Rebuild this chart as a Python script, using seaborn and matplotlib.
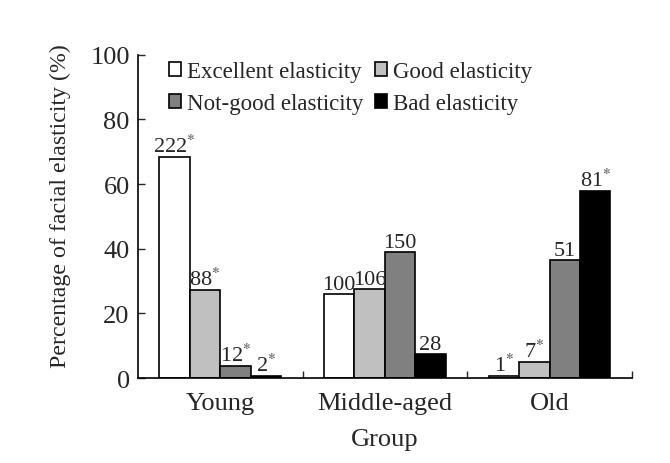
import matplotlib
matplotlib.use("Agg")
import matplotlib.pyplot as plt
import seaborn as sns
import pandas as pd

groups = ["Young", "Middle-aged", "Old"]
categories = ["Excellent elasticity", "Good elasticity", "Not-good elasticity", "Bad elasticity"]
excellent = [68.5, 26.0, 0.7]
good = [27.2, 27.6, 5.0]
notgood = [3.7, 39.1, 36.4]
bad = [0.6, 7.3, 57.9]
excellent_lbl = ["222$^{*}$", "100", "1$^{*}$"]
good_lbl = ["88$^{*}$", "106", "7$^{*}$"]
notgood_lbl = ["12$^{*}$", "150", "51"]
bad_lbl = ["2$^{*}$", "28", "81$^{*}$"]
yticks = [0, 20, 40, 60, 80, 100]

sns.set_theme(style="white")
plt.rcParams["font.family"] = ["Liberation Serif", "DejaVu Serif"]
plt.rcParams["mathtext.fontset"] = "stix"

rows = []
for cat, vals in zip(categories, [excellent, good, notgood, bad]):
    for g, v in zip(groups, vals):
        rows.append({"Group": g, "Elasticity": cat, "Pct": v})
df = pd.DataFrame(rows)

fig = plt.figure(figsize=(6.7, 4.64), dpi=100)
ax = fig.add_axes([0.206, 0.183, 0.737, 0.697])
colors = ["#ffffff", "#c0c0c0", "#808080", "#000000"]
sns.barplot(data=df, x="Group", y="Pct", hue="Elasticity", order=groups,
            hue_order=categories, palette=colors, edgecolor="black",
            linewidth=1.2, width=0.74, ax=ax, saturation=1)

for cont, lbls in zip(ax.containers, [excellent_lbl, good_lbl, notgood_lbl, bad_lbl]):
    ax.bar_label(cont, labels=lbls, fontsize=16, padding=0)

ax.set_xlim(-0.5, 2.5)
ax.set_ylim(0, 100)
ax.set_yticks(yticks)
ax.set_yticklabels([str(t) for t in yticks], fontsize=19)
ax.set_xticks(range(3))
ax.set_xticklabels(groups, fontsize=19)
ax.set_xticks([0.5, 1.5, 2.5], minor=True)
ax.tick_params(axis="x", which="major", length=0, pad=10)
ax.tick_params(axis="x", which="minor", direction="in", length=5, width=1, bottom=True)
ax.tick_params(axis="y", direction="in", length=5, width=1, left=True, pad=6)
for s in ["top", "right"]:
    ax.spines[s].set_visible(False)
for s in ["left", "bottom"]:
    ax.spines[s].set_color("black")
    ax.spines[s].set_linewidth(1.2)

ax.set_xlabel("Group", fontsize=19, labelpad=10)
ax.set_ylabel("Percentage of facial elasticity (%)", fontsize=17.2)
ax.yaxis.set_label_coords(-0.135, 0.535)

handles, labels = ax.get_legend_handles_labels()
order = [0, 2, 1, 3]
leg = ax.legend([handles[i] for i in order], [labels[i] for i in order],
                ncol=2, frameon=False, fontsize=16.5, loc="upper center",
                bbox_to_anchor=(0.43, 1.045), handlelength=0.55, handleheight=0.55,
                handletextpad=0.25, columnspacing=0.5, labelspacing=0.5)

fig.savefig("out.png", dpi=100)
